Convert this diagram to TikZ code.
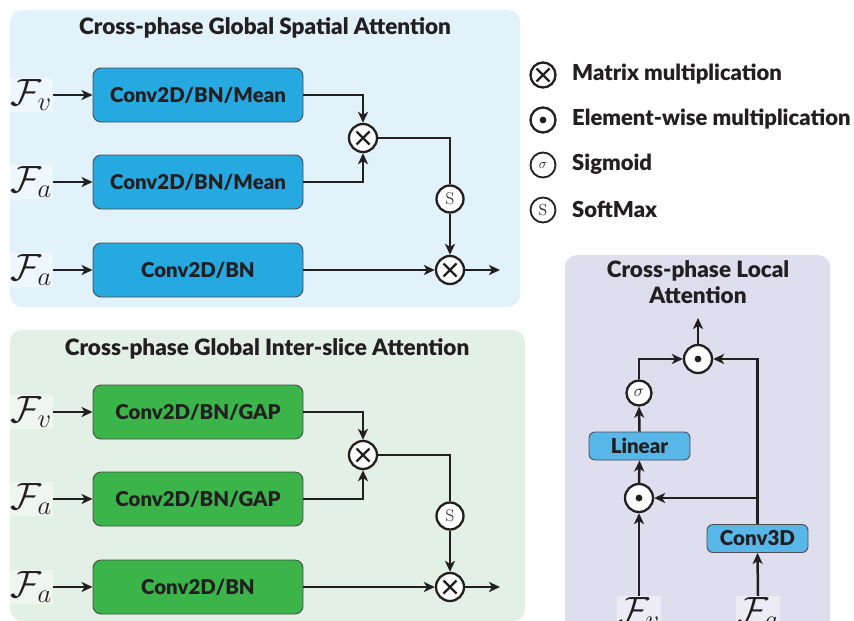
\RequirePackage{fix-cm}
\documentclass[tikz,border=0pt]{standalone}
\usepackage[no-math]{fontspec}
\setmainfont{Lato}[BoldFont={Lato Black}]
\usetikzlibrary{arrows.meta}
\definecolor{panelblue}{HTML}{E1F2FA}
\definecolor{panelgreen}{HTML}{E2F0E5}
\definecolor{panelviolet}{HTML}{DFDEEE}
\definecolor{boxblue}{HTML}{26A8E0}
\definecolor{boxgreen}{HTML}{3BB44A}
\definecolor{boxlight}{HTML}{58B7E8}
\definecolor{ink}{HTML}{231F20}
\begin{document}
\begin{tikzpicture}[x=1pt,y=-1pt,
  every node/.style={text=ink},
  arr/.style={draw=ink, line width=2.5pt, -{Stealth[length=11pt,width=10pt,inset=3pt]}},
  ln/.style={draw=ink, line width=2.5pt},
  titletext/.style={font=\bfseries\fontsize{22.5}{26}\selectfont},
  bigbox/.style={draw=ink!80, line width=0.9pt, rounded corners=8pt, minimum width=210pt, minimum height=54pt, inner sep=0pt, font=\bfseries\fontsize{20.4}{23}\selectfont},
  smallbox/.style={draw=ink!80, line width=0.9pt, rounded corners=6pt, fill=boxlight, minimum width=101pt, minimum height=28pt, inner sep=0pt, font=\bfseries\fontsize{20.5}{23}\selectfont},
  flabel/.style={fill=white, fill opacity=0.45, text opacity=1, inner sep=1pt, font=\fontsize{38}{40}\selectfont},
  opbase/.style={circle, draw=ink, line width=2.3pt, fill=white, minimum size=28pt, inner sep=0pt},
  otimesop/.style={opbase, path picture={
     \draw[ink, line width=2.4pt] ([shift={(-6.5pt,-6.5pt)}]path picture bounding box.center) -- ([shift={(6.5pt,6.5pt)}]path picture bounding box.center);
     \draw[ink, line width=2.4pt] ([shift={(-6.5pt,6.5pt)}]path picture bounding box.center) -- ([shift={(6.5pt,-6.5pt)}]path picture bounding box.center);}},
  odotop/.style={opbase, path picture={\fill[ink] (path picture bounding box.center) circle (3.4pt);}},
  sop/.style={opbase, minimum size=27pt, font=\fontsize{17}{18}\selectfont},
  sigop/.style={opbase, minimum size=25pt, font=\fontsize{17}{18}\selectfont},
  legtext/.style={anchor=west, font=\bfseries\fontsize{22}{25}\selectfont, inner sep=0pt}
]
\useasboundingbox (0,0) rectangle (854,621);
\clip (0,0) rectangle (854,621);
\fill[white] (0,0) rectangle (854,621);

% ---------------- top panel ----------------
\fill[panelblue, rounded corners=12pt] (10,10) rectangle (520,307);
\node[titletext] (t1) at (265,28) {Cross-phase Global Spatial Attention};
\node[flabel] (fv1) at (31,95) {$\mathcal{F}_v$};
\node[flabel] (fa1) at (31,182) {$\mathcal{F}_a$};
\node[flabel] (fa2) at (31,270) {$\mathcal{F}_a$};
\node[bigbox, fill=boxblue] (b1) at (198,95) {Conv2D/BN/Mean};
\node[bigbox, fill=boxblue] (b2) at (198,182) {Conv2D/BN/Mean};
\node[bigbox, fill=boxblue] (b3) at (198,270) {Conv2D/BN};
\node[otimesop] (m1) at (363,138) {};
\node[sop] (s1) at (450,199) {$\mathrm{S}$};
\node[otimesop] (m2) at (450,270) {};
\coordinate (o1) at (500,270);
\draw[arr] (fv1.east) -- (b1.west);
\draw[arr] (fa1.east) -- (b2.west);
\draw[arr] (fa2.east) -- (b3.west);
\draw[arr] (b1.east) -| (m1.north);
\draw[arr] (b2.east) -| (m1.south);
\draw[ln] (m1.east) -| (s1.north);
\draw[arr] (s1.south) -- (m2.north);
\draw[arr] (b3.east) -- (m2.west);
\draw[arr] (m2.east) -- (o1);

% ---------------- bottom panel ----------------
\fill[panelgreen, rounded corners=12pt] (10,330) rectangle (525,621);
\node[titletext] (t2) at (267,349) {Cross-phase Global Inter-slice Attention};
\node[flabel] (fv2) at (31,412) {$\mathcal{F}_v$};
\node[flabel] (fa3) at (31,499) {$\mathcal{F}_a$};
\node[flabel] (fa4) at (31,587) {$\mathcal{F}_a$};
\node[bigbox, fill=boxgreen] (g1) at (198,412) {Conv2D/BN/GAP};
\node[bigbox, fill=boxgreen] (g2) at (198,499) {Conv2D/BN/GAP};
\node[bigbox, fill=boxgreen] (g3) at (198,587) {Conv2D/BN};
\node[otimesop] (m3) at (363,455) {};
\node[sop] (s2) at (450,516) {$\mathrm{S}$};
\node[otimesop] (m4) at (450,587) {};
\coordinate (o2) at (500,587);
\draw[arr] (fv2.east) -- (g1.west);
\draw[arr] (fa3.east) -- (g2.west);
\draw[arr] (fa4.east) -- (g3.west);
\draw[arr] (g1.east) -| (m3.north);
\draw[arr] (g2.east) -| (m3.south);
\draw[ln] (m3.east) -| (s2.north);
\draw[arr] (s2.south) -- (m4.north);
\draw[arr] (g3.east) -- (m4.west);
\draw[arr] (m4.east) -- (o2);

% ---------------- legend ----------------
\node[otimesop, minimum size=25pt] (lg1) at (543,75) {};
\node[odotop, minimum size=25pt] (lg2) at (543,120) {};
\node[sigop, minimum size=25pt, line width=1.8pt, font=\fontsize{14}{15}\selectfont] (lg3) at (543,165) {$\sigma$};
\node[sop, minimum size=25pt, line width=1.8pt, font=\fontsize{16}{17}\selectfont] (lg4) at (543,210) {$\mathrm{S}$};
\node[legtext] (lt1) at (572,74) {Matrix multiplication};
\node[legtext] (lt2) at (572,119) {Element-wise multiplication};
\node[legtext] (lt3) at (572,164) {Sigmoid};
\node[legtext] (lt4) at (572,209) {SoftMax};

% ---------------- right panel ----------------
\fill[panelviolet, rounded corners=12pt] (565,255) rectangle (830,640);
\node[titletext, align=center] (t3) at (698,282) {Cross-phase Local\\Attention};
\node[odotop] (d1) at (698,359) {};
\coordinate (o3) at (698,318);
\node[sigop] (sg) at (639,393) {$\sigma$};
\node[smallbox] (lin) at (639.5,446) {Linear};
\node[odotop] (d2) at (639,498) {};
\node[smallbox] (c3d) at (757.5,538.5) {Conv3D};
\node[flabel] (fv3) at (639,613) {$\mathcal{F}_v$};
\node[flabel] (fa5) at (758,613) {$\mathcal{F}_a$};
\coordinate (br) at (758,498);
\draw[arr] (d1.north) -- (o3);
\draw[arr] (sg.north) |- (d1.west);
\draw[arr] (lin.north) -- (sg.south);
\draw[arr] (d2.north) -- (lin.south);
\draw[arr] (fv3.north) -- (d2.south);
\draw[arr] (fa5.north) -- (c3d.south);
\draw[arr] (c3d.north) |- (d1.east);
\draw[arr] (br) -- (d2.east);
\end{tikzpicture}
\end{document}
